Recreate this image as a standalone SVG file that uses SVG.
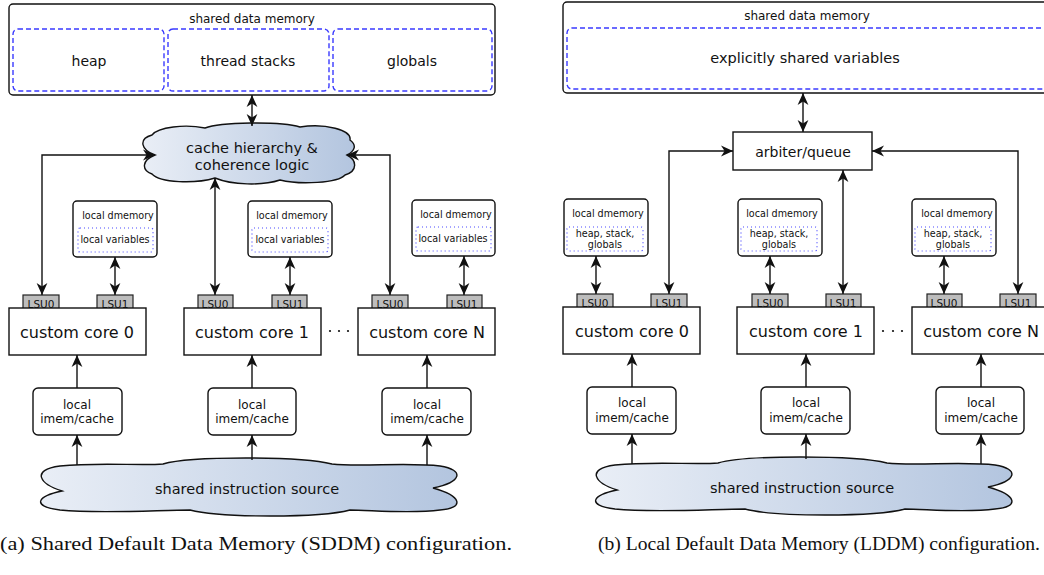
<svg xmlns="http://www.w3.org/2000/svg" width="1044" height="575" viewBox="0 0 1044 575">
<defs>
<style>
text{font-family:"DejaVu Sans",sans-serif;fill:#111;text-anchor:middle}
.box{fill:#fff;stroke:#111;stroke-width:1.4}
.dash{fill:none;stroke:#3a3aff;stroke-width:1.4;stroke-dasharray:5,3}
.dot{fill:none;stroke:#4a4aff;stroke-width:1.2;stroke-dasharray:1,3}
.lsu{fill:#bdbdbd;stroke:#222;stroke-width:1.2}
.cloud{fill:url(#cg);stroke:#111;stroke-width:1.4}
.c{fill:none;stroke:#111;stroke-width:1.4}
.cap{font-family:"Liberation Serif",serif;font-size:19.4px;text-anchor:start}
</style>
<linearGradient id="cg" x1="0" y1="0" x2="1" y2="0">
<stop offset="0" stop-color="#e9eef6"/>
<stop offset="1" stop-color="#b3c5df"/>
</linearGradient>
<marker id="ah" viewBox="0 0 10 10" refX="10" refY="5" markerWidth="12" markerHeight="12" markerUnits="userSpaceOnUse" orient="auto-start-reverse">
<path d="M0,0.5 L10,5 L0,9.5 L3,5 Z" fill="#111"/>
</marker>
</defs>

<!-- ===== Panel (a) ===== -->
<g id="a-shared-mem">
<rect class="box" x="9" y="4" width="486" height="91" rx="4"/>
<text x="252" y="23" font-size="12">shared data memory</text>
<rect class="dash" x="13" y="29" width="151" height="62" rx="5"/>
<text x="89" y="66" font-size="14">heap</text>
<rect class="dash" x="168" y="29" width="161" height="62" rx="5"/>
<text x="248" y="66" font-size="14">thread stacks</text>
<rect class="dash" x="333" y="29" width="159" height="62" rx="5"/>
<text x="412" y="66" font-size="14">globals</text>
</g>

<g id="a-cache">
<path class="cloud" d="M155,155 C141,150 138,139 152,135 C158,127 185,124 205,128 C220,122 280,121 300,127 C325,123 352,130 350,140 C357,145 355,151 347,155 C357,160 358,171 345,175 C338,183 300,185 280,180 C262,186 232,185 215,178 C195,184 160,183 152,174 C141,170 142,160 155,155 Z"/>
<text x="252" y="153" font-size="14.5">cache hierarchy &amp;</text>
<text x="252" y="170" font-size="14.5">coherence logic</text>
</g>

<g id="a-dmem0">
<rect class="box" x="73" y="201" width="84" height="56" rx="4"/>
<text x="118" y="219" font-size="9.6">local dmemory</text>
<rect class="dot" x="78" y="228" width="75" height="24" rx="2"/>
<text x="115" y="243" font-size="9.6">local variables</text>
</g>
<g id="a-dmem1">
<rect class="box" x="248" y="201" width="84" height="56" rx="4"/>
<text x="292" y="219" font-size="9.6">local dmemory</text>
<rect class="dot" x="252" y="228" width="76" height="24" rx="2"/>
<text x="290" y="243" font-size="9.6">local variables</text>
</g>
<g id="a-dmemN">
<rect class="box" x="412" y="200" width="83" height="56" rx="4"/>
<text x="456" y="218" font-size="9.6">local dmemory</text>
<rect class="dot" x="416" y="227" width="75" height="24" rx="2"/>
<text x="453" y="242" font-size="9.6">local variables</text>
</g>

<g id="a-core0">
<rect class="lsu" x="23" y="295" width="36" height="16"/>
<text x="41" y="307.5" font-size="10.5">LSU0</text>
<rect class="lsu" x="97" y="295" width="36" height="16"/>
<text x="115" y="307.5" font-size="10.5">LSU1</text>
<rect class="box" x="9" y="308" width="137" height="47"/>
<text x="77" y="338" font-size="16">custom core 0</text>
</g>
<g id="a-core1">
<rect class="lsu" x="198" y="295" width="35" height="16"/>
<text x="215" y="307.5" font-size="10.5">LSU0</text>
<rect class="lsu" x="272" y="295" width="35" height="16"/>
<text x="290" y="307.5" font-size="10.5">LSU1</text>
<rect class="box" x="184" y="308" width="137" height="47"/>
<text x="252" y="338" font-size="16">custom core 1</text>
</g>
<g id="a-dots">
<circle cx="330" cy="331" r="1.1" fill="#111"/>
<circle cx="339" cy="331" r="1.1" fill="#111"/>
<circle cx="348" cy="331" r="1.1" fill="#111"/>
</g>
<g id="a-coreN">
<rect class="lsu" x="372" y="295" width="36" height="16"/>
<text x="390" y="307.5" font-size="10.5">LSU0</text>
<rect class="lsu" x="447" y="295" width="35" height="16"/>
<text x="464" y="307.5" font-size="10.5">LSU1</text>
<rect class="box" x="358" y="308" width="137" height="47"/>
<text x="427" y="338" font-size="16">custom core N</text>
</g>

<g id="a-imem0">
<rect class="box" x="33" y="388" width="89" height="47" rx="5"/>
<text x="77" y="409" font-size="12">local</text>
<text x="77" y="423" font-size="12">imem/cache</text>
</g>
<g id="a-imem1">
<rect class="box" x="208" y="388" width="88" height="47" rx="5"/>
<text x="252" y="409" font-size="12">local</text>
<text x="252" y="423" font-size="12">imem/cache</text>
</g>
<g id="a-imemN">
<rect class="box" x="382" y="388" width="89" height="47" rx="5"/>
<text x="427" y="409" font-size="12">local</text>
<text x="427" y="423" font-size="12">imem/cache</text>
</g>

<g id="a-instr">
<path class="cloud" d="M62,491 C40,484 30,470 60,466 C100,462 140,466 163,464 C190,456 300,456 332,464 C360,467 410,462 440,466 C465,470 462,482 433,488 C462,496 465,508 440,510 C410,514 370,510 350,510 C320,518 220,518 190,510 C160,510 100,514 60,510 C30,506 38,496 62,491 Z"/>
<text x="247" y="494" font-size="14.5">shared instruction source</text>
</g>

<text class="cap" x="0" y="550" textLength="512" lengthAdjust="spacingAndGlyphs">(a) Shared Default Data Memory (SDDM) configuration.</text>

<!-- ===== Panel (b) ===== -->
<g id="b-shared-mem">
<rect class="box" x="563" y="2" width="500" height="91" rx="4"/>
<text x="807" y="20" font-size="12">shared data memory</text>
<rect class="dash" x="567" y="28" width="500" height="61" rx="5"/>
<text x="805" y="63" font-size="14.5">explicitly shared variables</text>
</g>

<g id="b-arbiter">
<rect class="box" x="733" y="132" width="139" height="38"/>
<text x="803" y="157" font-size="14">arbiter/queue</text>
</g>

<g id="b-dmem0">
<rect class="box" x="564" y="199" width="84" height="57" rx="4"/>
<text x="608" y="217" font-size="9.6">local dmemory</text>
<rect class="dot" x="567" y="227" width="76" height="24" rx="2"/>
<text x="605" y="237" font-size="9.6">heap, stack,</text>
<text x="605" y="248" font-size="9.6">globals</text>
</g>
<g id="b-dmem1">
<rect class="box" x="738" y="199" width="84" height="57" rx="4"/>
<text x="782" y="217" font-size="9.6">local dmemory</text>
<rect class="dot" x="741" y="227" width="76" height="24" rx="2"/>
<text x="779" y="237" font-size="9.6">heap, stack,</text>
<text x="779" y="248" font-size="9.6">globals</text>
</g>
<g id="b-dmemN">
<rect class="box" x="912" y="199" width="84" height="57" rx="4"/>
<text x="957" y="217" font-size="9.6">local dmemory</text>
<rect class="dot" x="915" y="227" width="76" height="24" rx="2"/>
<text x="953" y="237" font-size="9.6">heap, stack,</text>
<text x="953" y="248" font-size="9.6">globals</text>
</g>

<g id="b-core0">
<rect class="lsu" x="577" y="294" width="36" height="16"/>
<text x="595" y="306.5" font-size="10.5">LSU0</text>
<rect class="lsu" x="651" y="294" width="36" height="16"/>
<text x="669" y="306.5" font-size="10.5">LSU1</text>
<rect class="box" x="563" y="307" width="137" height="47"/>
<text x="632" y="337" font-size="16">custom core 0</text>
</g>
<g id="b-core1">
<rect class="lsu" x="752" y="294" width="36" height="16"/>
<text x="770" y="306.5" font-size="10.5">LSU0</text>
<rect class="lsu" x="826" y="294" width="35" height="16"/>
<text x="843" y="306.5" font-size="10.5">LSU1</text>
<rect class="box" x="737" y="307" width="137" height="47"/>
<text x="806" y="337" font-size="16">custom core 1</text>
</g>
<g id="b-dots">
<circle cx="883" cy="331" r="1.1" fill="#111"/>
<circle cx="893" cy="331" r="1.1" fill="#111"/>
<circle cx="902" cy="331" r="1.1" fill="#111"/>
</g>
<g id="b-coreN">
<rect class="lsu" x="927" y="294" width="35" height="16"/>
<text x="944" y="306.5" font-size="10.5">LSU0</text>
<rect class="lsu" x="1000" y="294" width="36" height="16"/>
<text x="1018" y="306.5" font-size="10.5">LSU1</text>
<rect class="box" x="912" y="307" width="140" height="47"/>
<text x="981" y="337" font-size="16">custom core N</text>
</g>

<g id="b-imem0">
<rect class="box" x="587" y="387" width="89" height="47" rx="5"/>
<text x="632" y="407" font-size="12">local</text>
<text x="632" y="422" font-size="12">imem/cache</text>
</g>
<g id="b-imem1">
<rect class="box" x="761" y="387" width="89" height="47" rx="5"/>
<text x="806" y="407" font-size="12">local</text>
<text x="806" y="422" font-size="12">imem/cache</text>
</g>
<g id="b-imemN">
<rect class="box" x="936" y="387" width="88" height="47" rx="5"/>
<text x="981" y="407" font-size="12">local</text>
<text x="981" y="422" font-size="12">imem/cache</text>
</g>

<g id="b-instr">
<path class="cloud" transform="translate(555,-1)" d="M62,491 C40,484 30,470 60,466 C100,462 140,466 163,464 C190,456 300,456 332,464 C360,467 410,462 440,466 C465,470 462,482 433,488 C462,496 465,508 440,510 C410,514 370,510 350,510 C320,518 220,518 190,510 C160,510 100,514 60,510 C30,506 38,496 62,491 Z"/>
<text x="802" y="493" font-size="14.5">shared instruction source</text>
</g>

<text class="cap" x="598" y="550" textLength="442" lengthAdjust="spacingAndGlyphs">(b) Local Default Data Memory (LDDM) configuration.</text>

<!-- ===== Connectors ===== -->
<g id="connectors" class="c">
<!-- (a) -->
<path class="c" d="M252,95 V126" marker-start="url(#ah)" marker-end="url(#ah)"/>
<path class="c" d="M155,155 H42 V295" marker-start="url(#ah)" marker-end="url(#ah)"/>
<path class="c" d="M347,155 H390 V295" marker-start="url(#ah)" marker-end="url(#ah)"/>
<path class="c" d="M215,178 V295" marker-start="url(#ah)" marker-end="url(#ah)"/>
<path class="c" d="M115,257 V295" marker-start="url(#ah)" marker-end="url(#ah)"/>
<path class="c" d="M290,257 V295" marker-start="url(#ah)" marker-end="url(#ah)"/>
<path class="c" d="M464,256 V295" marker-start="url(#ah)" marker-end="url(#ah)"/>
<path class="c" d="M77,388 V355" marker-end="url(#ah)"/>
<path class="c" d="M252,388 V355" marker-end="url(#ah)"/>
<path class="c" d="M427,388 V355" marker-end="url(#ah)"/>
<path class="c" d="M77,465 V435" marker-end="url(#ah)"/>
<path class="c" d="M252,460 V435" marker-end="url(#ah)"/>
<path class="c" d="M427,465 V435" marker-end="url(#ah)"/>
<!-- (b) -->
<path class="c" d="M803,93 V132" marker-start="url(#ah)" marker-end="url(#ah)"/>
<path class="c" d="M733,151 H669 V294" marker-start="url(#ah)" marker-end="url(#ah)"/>
<path class="c" d="M872,151 H1018 V294" marker-start="url(#ah)" marker-end="url(#ah)"/>
<path class="c" d="M843,170 V294" marker-start="url(#ah)" marker-end="url(#ah)"/>
<path class="c" d="M596,256 V294" marker-start="url(#ah)" marker-end="url(#ah)"/>
<path class="c" d="M770,256 V294" marker-start="url(#ah)" marker-end="url(#ah)"/>
<path class="c" d="M944,256 V294" marker-start="url(#ah)" marker-end="url(#ah)"/>
<path class="c" d="M632,387 V354" marker-end="url(#ah)"/>
<path class="c" d="M806,387 V354" marker-end="url(#ah)"/>
<path class="c" d="M981,387 V354" marker-end="url(#ah)"/>
<path class="c" d="M632,464 V434" marker-end="url(#ah)"/>
<path class="c" d="M806,459 V434" marker-end="url(#ah)"/>
<path class="c" d="M981,464 V434" marker-end="url(#ah)"/>
</g>
</svg>
